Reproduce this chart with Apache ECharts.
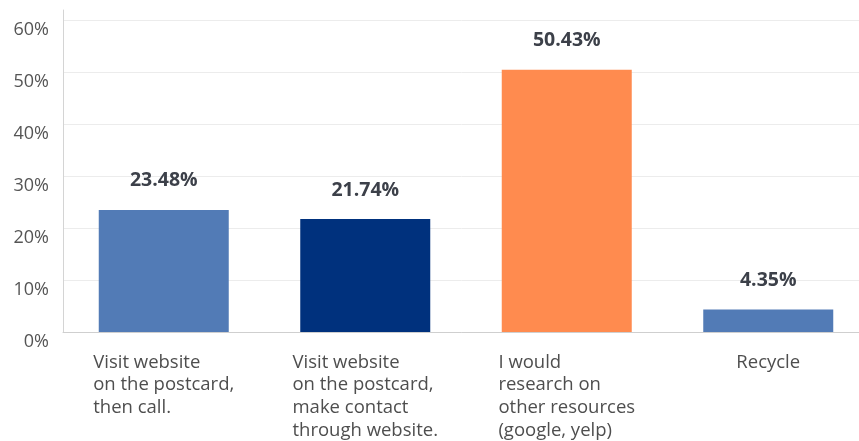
<!DOCTYPE html>
<html>
<head>
<meta charset="utf-8">
<script src="https://cdn.jsdelivr.net/npm/echarts@6/dist/echarts.min.js"></script>
<style>
  html, body { margin: 0; padding: 0; background: #fff; }
  #chart { width: 859px; height: 441px; }
</style>
</head>
<body>
<div id="chart"></div>
<script>
// Survey answers: what people would do after receiving the postcard
const categories = [
  'Visit website\non the postcard,\nthen call.',
  'Visit website\non the postcard,\nmake contact\nthrough website.',
  'I would\nresearch on\nother resources\n(google, yelp)',
  'Recycle'
];
const shares = [23.48, 21.74, 50.43, 4.35];
const barColors = ['#527bb6', '#00317d', '#ff8b4f', '#527bb6'];
const yTicks = [0, 10, 20, 30, 40, 50, 60];

const FONT = '"Open Sans", "Noto Sans", sans-serif';

const chart = echarts.init(document.getElementById('chart'), null, { renderer: 'canvas' });

chart.setOption({
  animation: false,
  backgroundColor: '#ffffff',
  grid: [
    { left: 63, top: 20, right: -10, bottom: 109, containLabel: false, outerBoundsMode: 'none' },
    { left: 63, top: 10, right: -10, bottom: 109, containLabel: false, outerBoundsMode: 'none' }
  ],
  xAxis: [
    {
      type: 'category',
      gridIndex: 0,
      data: categories,
      boundaryGap: true,
      axisLine: { show: true, lineStyle: { color: '#cfcfcf', width: 1 } },
      axisTick: { show: false },
      axisLabel: {
        margin: 19,
        interval: 0,
        formatter: function (v) {
          return v.split('\n').map(function (s) { return '{t|' + s + '}'; }).join('\n');
        },
        rich: {
          t: {
            align: 'left',
            fontFamily: FONT,
            fontSize: 18.5,
            lineHeight: 22.7,
            color: '#4e4e4e'
          }
        }
      }
    },
    {
      type: 'category',
      gridIndex: 1,
      data: categories,
      show: false
    }
  ],
  yAxis: [
    {
      type: 'value',
      gridIndex: 0,
      min: yTicks[0],
      max: yTicks[yTicks.length - 1],
      interval: 10,
      axisLine: { show: false },
      axisTick: { show: false },
      splitLine: { show: true, lineStyle: { color: '#ececec', width: 1 } },
      axisLabel: {
        margin: 14,
        fontFamily: FONT,
        fontSize: 18,
        color: '#555555',
        verticalAlign: 'top',
        lineHeight: 19,
        formatter: '{value}%'
      }
    },
    {
      // left rule that rises slightly above the top gridline
      type: 'value',
      gridIndex: 1,
      min: 0,
      max: 1,
      position: 'left',
      axisLine: { show: true, lineStyle: { color: '#d4d4d4', width: 1 } },
      axisTick: { show: false },
      axisLabel: { show: false },
      splitLine: { show: false }
    }
  ],
  series: [
    {
      type: 'bar',
      xAxisIndex: 0,
      yAxisIndex: 0,
      barWidth: 130,
      data: shares.map(function (v, i) {
        return { value: v, itemStyle: { color: barColors[i] } };
      }),
      label: {
        show: true,
        position: 'top',
        distance: 19,
        fontFamily: FONT,
        fontSize: 19.5,
        fontWeight: 'bold',
        color: '#3c4049',
        formatter: function (p) { return p.value.toFixed(2) + '%'; }
      }
    }
  ]
});
</script>
</body>
</html>
